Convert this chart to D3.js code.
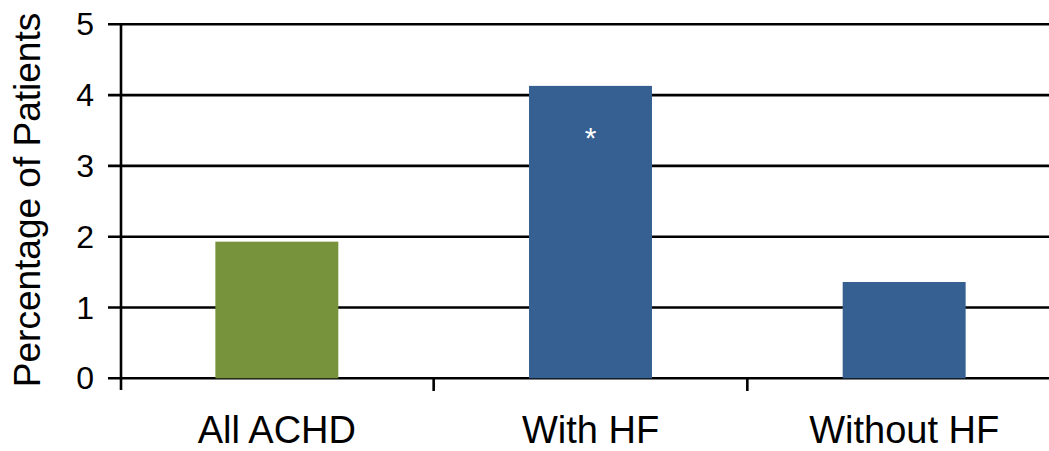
<!DOCTYPE html>
<html><head><meta charset="utf-8">
<script src="https://cdn.jsdelivr.net/npm/d3@7"></script>
<style>html,body{margin:0;padding:0;background:#fff;}svg{display:block;font-family:Arial,"Liberation Sans",sans-serif;}</style>
</head><body>
<svg id="chart" width="1049" height="451"></svg>
<script>
const categories = ["All ACHD", "With HF", "Without HF"];
const values = [1.93, 4.13, 1.36];
const barColors = ["#77933C", "#376092", "#376092"];
const markers = ["", "*", ""];
const yTicks = [0, 1, 2, 3, 4, 5];
const yLabel = "Percentage of Patients";

const svg = d3.select("#chart");
const W = 1049;
const axisX = 121;
const x = d3.scaleBand().domain(categories).range([120, 1061]).paddingInner(0.608).paddingOuter(0.304);
const y = d3.scaleLinear().domain([0, 5]).range([378.3, 24.3]);

// gridlines
svg.append("g").selectAll("line").data(yTicks).join("line")
  .attr("x1", 108).attr("x2", W)
  .attr("y1", d => y(d)).attr("y2", d => y(d))
  .attr("stroke", "#000").attr("stroke-width", 2.6);

// bars
svg.append("g").selectAll("rect").data(categories).join("rect")
  .attr("x", d => x(d)).attr("width", x.bandwidth())
  .attr("y", (d, i) => y(values[i])).attr("height", (d, i) => y(0) - y(values[i]))
  .attr("fill", (d, i) => barColors[i]);

// markers
svg.append("g").selectAll("text").data(categories).join("text")
  .attr("x", d => x(d) + x.bandwidth() / 2)
  .attr("y", (d, i) => y(values[i]) + 62)
  .attr("text-anchor", "middle").attr("fill", "#fff")
  .attr("font-size", 30)
  .text((d, i) => markers[i]);

// y axis
const yAxis = d3.axisLeft(y).tickValues(yTicks).tickSize(0).tickPadding(27).tickFormat(d3.format("d"));
const ga = svg.append("g").attr("transform", `translate(${axisX},0)`).call(yAxis);
ga.select(".domain").remove();
ga.selectAll("text").attr("font-size", 32).attr("fill", "#000").attr("font-family", "Arial, 'Liberation Sans', sans-serif").attr("dy", "0.33em");
svg.append("line").attr("x1", axisX).attr("x2", axisX).attr("y1", y(5) - 1.3).attr("y2", 390)
  .attr("stroke", "#000").attr("stroke-width", 2.6);

// x category boundary ticks
const step = x.step();
const bounds = categories.map(d => x(d) - (step - x.bandwidth()) / 2);
bounds.push(bounds[bounds.length - 1] + step);
svg.append("g").selectAll("line").data(bounds.slice(1)).join("line")
  .attr("x1", d => d).attr("x2", d => d).attr("y1", y(0)).attr("y2", 391)
  .attr("stroke", "#000").attr("stroke-width", 2.6);

// x labels
svg.append("g").selectAll("text").data(categories).join("text")
  .attr("x", d => x(d) + x.bandwidth() / 2).attr("y", 443)
  .attr("text-anchor", "middle").attr("font-size", 38).attr("fill", "#000")
  .text(d => d);

// y label
svg.append("text").attr("transform", "translate(40,200) rotate(-90)")
  .attr("text-anchor", "middle").attr("font-size", 37).attr("fill", "#000")
  .text(yLabel);
</script>
</body></html>
